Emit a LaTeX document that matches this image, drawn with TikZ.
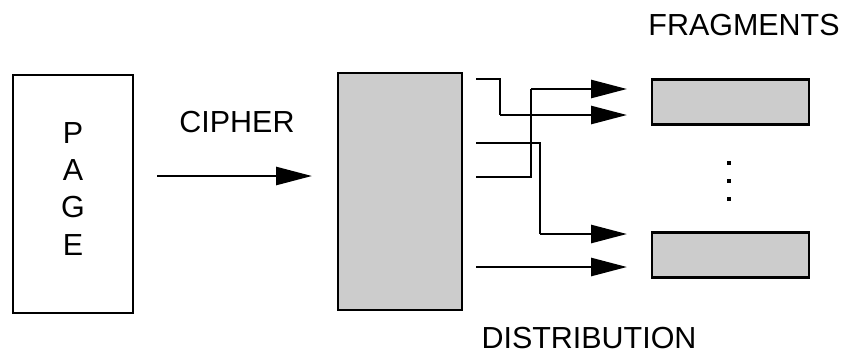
\documentclass[tikz,border=0pt]{standalone}
\usepackage{fontspec}
\setmainfont{Liberation Sans}
\usepackage{xcolor}
\usepackage{tikz}
\usetikzlibrary{arrows.meta}
\usetikzlibrary{backgrounds,positioning}
\pgfdeclarelayer{edgelayer}
\pgfdeclarelayer{nodelayer}
\pgfsetlayers{background,edgelayer,nodelayer,main}
\definecolor{boxgray}{RGB}{204,204,204}
\tikzstyle{none}=[inner sep=0mm]
\tikzstyle{pagebox}=[draw=black,line width=2pt,fill=white,inner sep=0pt,minimum width=3.6cm,minimum height=7.14cm]
\tikzstyle{cipherbox}=[draw=black,line width=2pt,fill=boxgray,inner sep=0pt,minimum width=3.72cm,minimum height=7.11cm]
\tikzstyle{fragbox}=[draw=black,line width=2pt,fill=boxgray,inner sep=0pt,minimum width=4.71cm,minimum height=1.35cm]
\tikzstyle{vdot}=[fill=black,inner sep=0pt,minimum size=0.12cm,shape=rectangle]
\tikzstyle{flow}=[line width=2.3pt,-{Triangle[length=1.08cm,width=0.54cm]}]
\tikzstyle{wire}=[line width=2.3pt]

\begin{document}
\begin{tikzpicture}[font={\fontsize{26}{31.6}\selectfont}]
	\useasboundingbox (0,0) rectangle (25.41,-10.62);
	\begin{pgfonlayer}{nodelayer}
		\node [style=pagebox] (0) at (2.19, -5.82) {};
		\node [style=none, align=center] (1) at (2.19, -5.67) {P\\A\\G\\E};
		\node [style=cipherbox] (2) at (12, -5.745) {};
		\node [style=fragbox] (3) at (21.915, -3.06) {};
		\node [style=fragbox] (4) at (21.915, -7.65) {};
		\node [style=vdot] (5) at (21.87, -4.89) {};
		\node [style=vdot] (6) at (21.87, -5.43) {};
		\node [style=vdot] (7) at (21.87, -5.97) {};
		\node [style=none] (8) at (7.11, -3.66) {CIPHER};
		\node [style=none] (9) at (22.32, -0.75) {FRAGMENTS};
		\node [style=none] (10) at (17.67, -10.14) {DISTRIBUTION};
		\coordinate (11) at (4.71, -5.28);
		\coordinate (12) at (9.36, -5.28);
		\coordinate (13) at (14.28, -2.37);
		\coordinate (14) at (15, -3.45);
		\coordinate (15) at (18.81, -3.45);
		\coordinate (16) at (14.28, -5.31);
		\coordinate (17) at (15.93, -2.67);
		\coordinate (18) at (18.81, -2.67);
		\coordinate (19) at (14.28, -4.29);
		\coordinate (20) at (16.2, -7.02);
		\coordinate (21) at (18.81, -7.02);
		\coordinate (22) at (14.28, -8.01);
		\coordinate (23) at (18.81, -8.01);
	\end{pgfonlayer}
	\begin{pgfonlayer}{edgelayer}
		\draw [style=flow] (11) to (12);
		\draw [style=wire] (13) -| (14);
		\draw [style=flow] (14) to (15);
		\draw [style=wire] (16) -| (17);
		\draw [style=flow] (17) to (18);
		\draw [style=wire] (19) -| (20);
		\draw [style=flow] (20) to (21);
		\draw [style=flow] (22) to (23);
	\end{pgfonlayer}
\end{tikzpicture}
\end{document}
